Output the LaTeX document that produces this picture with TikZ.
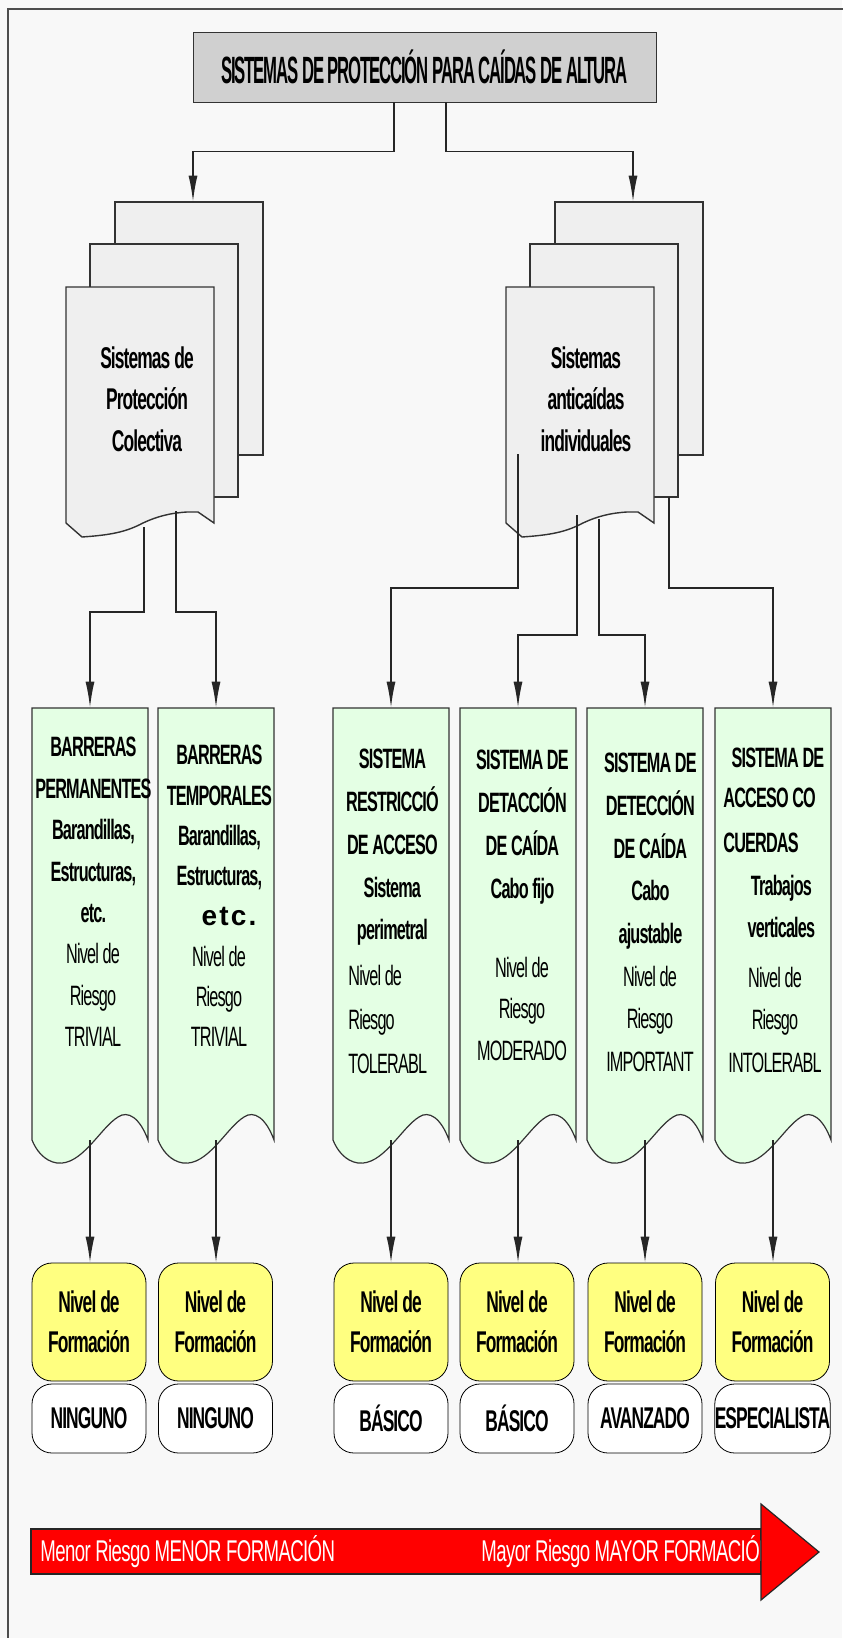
\documentclass[tikz,border=0pt]{standalone}
\usepackage{fontspec}
\setmainfont{Liberation Sans}[FakeStretch=0.58, LetterSpace=-3]
\newfontfamily\titlefont{Liberation Sans}[FakeStretch=0.44, LetterSpace=-3]
\newfontfamily\flechafont{Liberation Sans}[FakeStretch=0.62, LetterSpace=-2]
\newfontfamily\widefont{Liberation Sans}[LetterSpace=8]
\usetikzlibrary{arrows.meta}

\definecolor{fondo}{HTML}{F8F8F8}
\definecolor{marco}{HTML}{4D4D4D}
\definecolor{gristitulo}{HTML}{D0D0D0}
\definecolor{gristapa}{HTML}{EFEFEF}
\definecolor{verdecaja}{HTML}{E4FFE4}
\definecolor{amarillo}{HTML}{FFFF80}
\definecolor{rojo}{HTML}{FF0000}

% stack of three sheets, #1 name, #2 left edge of the front sheet
\newcommand{\pila}[2]{%
  \draw[hoja] (#2+49,202) rectangle (#2+197,455);
  \draw[hoja] (#2+24,244) rectangle (#2+172,497);
  \draw[hoja] (#2,287) -- (#2+148,287) -- (#2+148,523) -- (#2+132,512) -- (#2+121,512)
    .. controls (#2+105,513) and (#2+92,516) .. (#2+77,523)
    .. controls (#2+60,532) and (#2+45,535) .. (#2+16,537) -- (#2,523) -- cycle;
  \node[minimum width=74pt, minimum height=126.5pt, inner sep=0pt] (#1) at (#2+127,328.5) {};
}

% green banner with wavy bottom, #1 name, #2 left edge
\newcommand{\banda}[2]{%
  \draw[banda] (#2,708) -- (#2+116,708) -- (#2+116,1140)
    .. controls (#2+108,1118) and (#2+96,1110) .. (#2+86,1117)
    .. controls (#2+68,1128) and (#2+50,1166) .. (#2+25,1163)
    .. controls (#2+12,1161) and (#2+4,1150) .. (#2,1140) -- cycle;
  \node[minimum width=58pt, minimum height=216pt, inner sep=0pt] (#1) at (#2+58,924) {};
}

\begin{document}
\begin{tikzpicture}[x=0.5pt, y=-0.5pt,
    hoja/.style={draw=black!80, line width=0.7pt, fill=gristapa},
    banda/.style={draw=black!80, line width=0.6pt, fill=verdecaja},
    flecha/.style={draw=black!85, line width=0.7pt, -{Latex[length=13pt,width=4.5pt]}},
    texto/.style={inner sep=0pt, align=center, font=\fontsize{14}{#1}\selectfont},
    texto/.default=21,
    nivel/.style={draw=black, rounded corners=10pt, fill=amarillo, minimum width=57pt,
      minimum height=59pt, inner sep=0pt, align=center,
      font=\bfseries\fontsize{15}{20}\selectfont},
    grado/.style={draw=black, rounded corners=10pt, fill=white, minimum width=57pt,
      minimum height=34.5pt, inner sep=0pt, font=\bfseries\fontsize{15}{18}\selectfont}]

  \useasboundingbox (0,0) rectangle (842,1638);
  \fill[fondo] (0,0) rectangle (842,1638);
  \draw[marco, line width=1pt] (8,1642) -- (8,9) -- (846,9);

  % title
  \node[draw=black!80, fill=gristitulo, minimum width=231.5pt, minimum height=35pt, inner sep=0pt,
    font=\titlefont\bfseries\fontsize{19}{20}\selectfont] (titulo) at (424.5,67)
    {SISTEMAS DE PROTECCIÓN PARA CAÍDAS DE ALTURA};
  \coordinate (salidaI) at ([xshift=-15.25pt]titulo.south);
  \coordinate (salidaD) at ([xshift=10.75pt]titulo.south);

  % the two families
  \pila{colectiva}{66}
  \pila{individual}{506}
  \node[texto=20.75, font=\bfseries\fontsize{15}{20.75}\selectfont] (colectivat) at (147,399)
    {Sistemas de\\Protección\\Colectiva};
  \node[texto=20.75, font=\bfseries\fontsize{15}{20.75}\selectfont] (individualt) at (586,399)
    {Sistemas\\anticaídas\\individuales};

  \draw[flecha] (salidaI) -- ++(0,49) -| (colectiva.north);
  \draw[flecha] (salidaD) -- ++(0,49) -| (individual.north);

  % banners
  \banda{b1}{32}
  \banda{b2}{158}
  \banda{b3}{333}
  \banda{b4}{460}
  \banda{b5}{587}
  \banda{b6}{715}

  \coordinate (pc1) at (144,527);
  \coordinate (pc2) at (176,511);
  \coordinate (pa1) at (518,454);
  \coordinate (pa2) at (577,515);
  \coordinate (pa3) at (599,519);
  \coordinate (pa4) at (669,497);
  \draw[flecha] (pc1) -- ++(0,85) -| (b1.north);
  \draw[flecha] (pc2) -- ++(0,101) -| (b2.north);
  \draw[flecha] (pa1) -- ++(0,134) -| (b3.north);
  \draw[flecha] (pa2) -- ++(0,120) -| (b4.north);
  \draw[flecha] (pa3) -- ++(0,116) -| (b5.north);
  \draw[flecha] (pa4) -- ++(0,91) -| (b6.north);

  % banner texts
  \node[texto=20.7] (t1) at (93,892)
    {\textbf{BARRERAS}\\\textbf{PERMANENTES}\\\textbf{Barandillas,}\\\textbf{Estructuras,}\\\textbf{etc.}\\Nivel de\\Riesgo\\TRIVIAL};
  \node[texto=20.15] (t2) at (219,896)
    {\textbf{BARRERAS}\\\textbf{TEMPORALES}\\\textbf{Barandillas,}\\\textbf{Estructuras,}\\\hspace*{10pt}{\widefont\bfseries etc.}\\Nivel de\\Riesgo\\TRIVIAL};
  \node[texto=21.4] (t3) at (392,847.5)
    {\textbf{SISTEMA}\\\textbf{RESTRICCIÓ}\\\textbf{DE ACCESO}\\\textbf{Sistema}\\\textbf{perimetral}};
  \node[texto=22, align=left, anchor=west] (r3) at (348,1019) {Nivel de\\Riesgo\\TOLERABL};
  \node[texto=21.5] (t4) at (522,827.5)
    {\textbf{SISTEMA DE}\\\textbf{DETACCIÓN}\\\textbf{DE CAÍDA}\\\textbf{Cabo fijo}};
  \node[texto=20.75] (r4) at (522,1008.5) {Nivel de\\Riesgo\\MODERADO};
  \node[texto=21.35] (t5) at (650,912.5)
    {\textbf{SISTEMA DE}\\\textbf{DETECCIÓN}\\\textbf{DE CAÍDA}\\\textbf{Cabo}\\\textbf{ajustable}\\Nivel de\\Riesgo\\IMPORTANT};
  \node[texto, font=\bfseries\fontsize{14}{21}\selectfont] (t6) at (778,758) {SISTEMA DE};
  \node[texto=22.5, align=left, anchor=west] (c6) at (723,820.5) {\textbf{ACCESO CO}\\\textbf{CUERDAS}};
  \node[texto=21] (v6) at (781,906) {\textbf{Trabajos}\\\textbf{verticales}};
  \node[texto=21.25] (r6) at (775,1019.5) {Nivel de\\Riesgo\\INTOLERABL};

  % training level boxes
  \foreach \c/\g [count=\i] in {89/NINGUNO, 215.5/NINGUNO, 391/BÁSICO, 517/BÁSICO, 645/AVANZADO, 772.5/ESPECIALISTA} {
    \node[nivel] (f\i) at (\c,1322) {Nivel de\\Formación};
    \node[grado] (g\i) at (\c,1418.5) {\g};
    \draw[flecha] (b\i.south) -- (b\i.south |- f\i.north);
  }

  % risk / training arrow
  \filldraw[fill=rojo, draw=black!85, line width=0.6pt] (31,1529) rectangle (761,1574);
  \node[inner sep=0pt, anchor=west, text=white, font=\flechafont\fontsize{15}{18}\selectfont] (menor)
    at (40,1552) {Menor Riesgo MENOR FORMACIÓN};
  \node[inner sep=0pt, anchor=west, text=white, font=\flechafont\fontsize{15}{18}\selectfont] (mayor)
    at (481,1552) {Mayor Riesgo MAYOR FORMACIÓN};
  \filldraw[fill=rojo, draw=black!85, line width=0.6pt] (761,1504) -- (819,1552) -- (761,1600) -- cycle;
\end{tikzpicture}
\end{document}
